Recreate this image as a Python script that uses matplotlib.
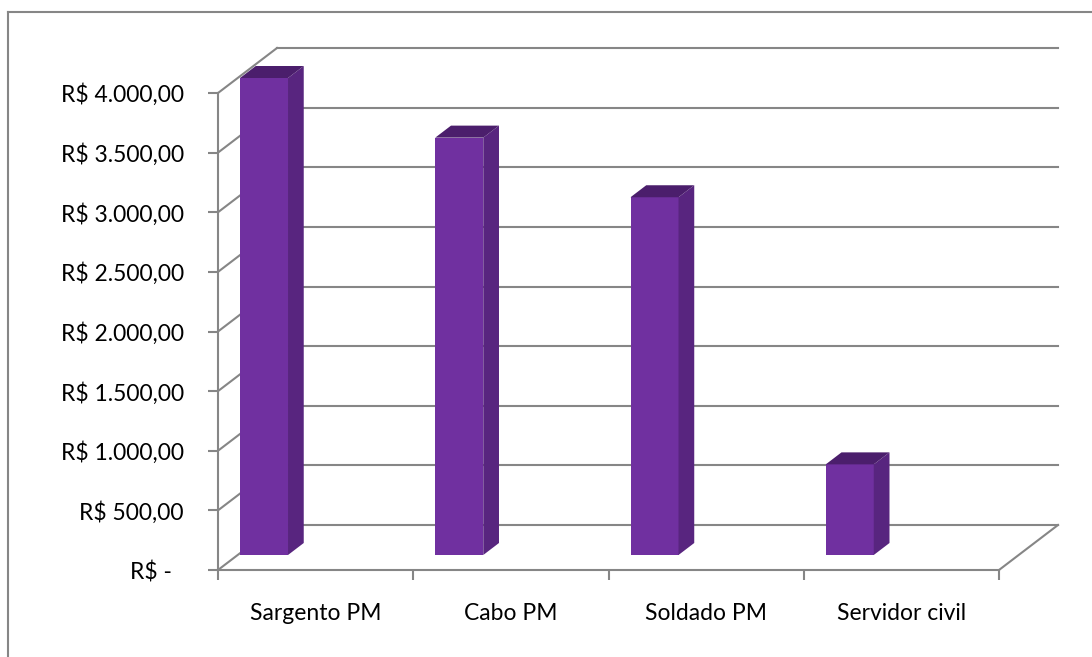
import numpy as np
import matplotlib.pyplot as plt
from matplotlib.patches import Polygon
from matplotlib.lines import Line2D

plt.rcParams["font.family"] = ["Lato", "DejaVu Sans"]

# --- dados ---
categorias = ["Sargento PM", "Cabo PM", "Soldado PM", "Servidor civil"]
salarios = [4000, 3500, 3000, 760]
yticks = [0, 500, 1000, 1500, 2000, 2500, 3000, 3500, 4000]
ytick_labels = ["R$ -  ", "R$ 500,00", "R$ 1.000,00", "R$ 1.500,00", "R$ 2.000,00",
                "R$ 2.500,00", "R$ 3.000,00", "R$ 3.500,00", "R$ 4.000,00"]

# --- estilo ---
GRAY = "#868686"
FRONT = "#7030A0"
SIDE = "#58257F"
TOP = "#4B1E6C"

W, H = 1092, 657
fig = plt.figure(figsize=(W / 100, H / 100), dpi=100)
# plano frontal do grafico 3D (em pixels: x 218->999, y 570->93)
ax = fig.add_axes([218 / W, (H - 570) / H, 781 / W, 477 / H])
n = len(categorias)
ax.set_xlim(0, n)
ax.set_ylim(0, 4000)

# profundidade (obliqua) em unidades de dados
px_x = 781 / n          # px por categoria
px_y = 477 / 4000       # px por unidade
DX = 59 / px_x
DY = 45 / px_y

# parede do fundo + parede lateral
for v in yticks:
    ax.plot([DX, n + DX], [v + DY, v + DY], color=GRAY, lw=1.5, zorder=1, clip_on=False)
    ax.plot([0, DX], [v, v + DY], color=GRAY, lw=1.5, zorder=1, clip_on=False)
# piso
ax.plot([n, n + DX], [0, DY], color=GRAY, lw=1.5, zorder=1, clip_on=False)

# barras 3D
d0, d1 = 1 / 3, 0.6
bw = 48 / px_x
for i, v in enumerate(salarios):
    x0 = i + 0.012
    fx, fy = x0 + d0 * DX, d0 * DY
    bx, by = x0 + d1 * DX, d1 * DY
    front = Polygon([(fx, fy), (fx + bw, fy), (fx + bw, fy + v), (fx, fy + v)],
                    closed=True, facecolor=FRONT, edgecolor="none", zorder=3, clip_on=False)
    side = Polygon([(fx + bw, fy), (bx + bw, by), (bx + bw, by + v), (fx + bw, fy + v)],
                   closed=True, facecolor=SIDE, edgecolor="none", zorder=3, clip_on=False)
    top = Polygon([(fx, fy + v), (fx + bw, fy + v), (bx + bw, by + v), (bx, by + v)],
                  closed=True, facecolor=TOP, edgecolor="none", zorder=3, clip_on=False)
    for p in (front, side, top):
        ax.add_patch(p)

# eixos
for s in ["top", "right"]:
    ax.spines[s].set_visible(False)
for s in ["left", "bottom"]:
    ax.spines[s].set_color(GRAY)
    ax.spines[s].set_linewidth(1.5)
    ax.spines[s].set_zorder(4)
ax.patch.set_visible(False)

ax.set_yticks(yticks)
ax.set_yticklabels(ytick_labels)
ax.tick_params(axis="y", length=7.5, width=1.5, color=GRAY, pad=17, labelsize=16.5)

ax.set_xticks(np.arange(n) + 0.5)
ax.set_xticklabels(categorias)
ax.set_xticks(np.arange(n + 1), minor=True)
ax.tick_params(axis="x", which="major", length=0, pad=24, labelsize=16.5)
ax.tick_params(axis="x", which="minor", length=7.5, width=1.5, color=GRAY)

# borda externa (recortada)
fig.add_artist(Line2D([8 / W, 8 / W], [0, (H - 12) / H], color=GRAY, lw=1.5,
                      transform=fig.transFigure))
fig.add_artist(Line2D([8 / W, 1], [(H - 12) / H, (H - 12) / H], color=GRAY, lw=1.5,
                      transform=fig.transFigure))

fig.savefig("out.png", dpi=100)
